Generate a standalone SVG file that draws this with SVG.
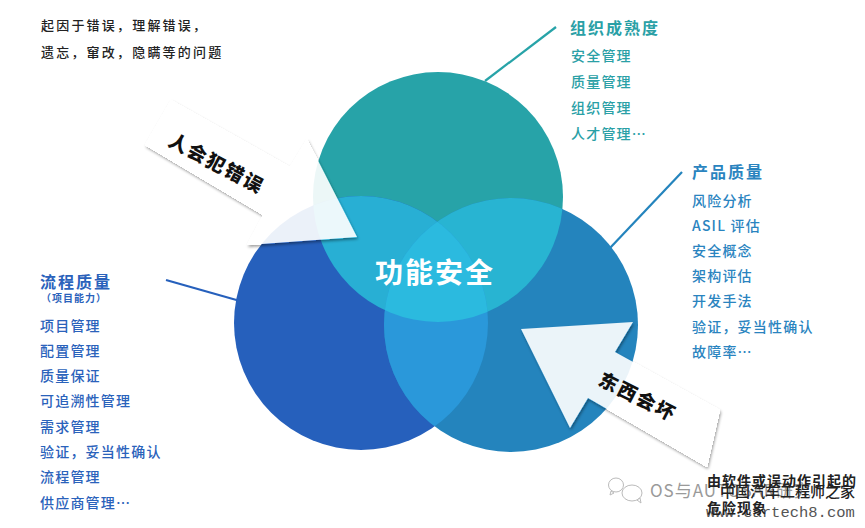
<svg xmlns="http://www.w3.org/2000/svg" width="865" height="528" viewBox="0 0 865 528">
<style>
text{font-family:"Noto Sans CJK SC","Noto Sans",sans-serif}
.t{font-size:16px;font-weight:700;letter-spacing:2px}
.i{font-size:14px;font-weight:500;letter-spacing:1.2px}
.teal{fill:#2aa0a6}.blue{fill:#2a84bf}.dark{fill:#2a62bb}
.k{font-size:13px;font-weight:500;letter-spacing:2.2px;fill:#222}
.a{font-size:19px;font-weight:900;letter-spacing:2px;fill:#111}
.c{fill:none;stroke-width:2.2}
.ar{fill:#fff;fill-opacity:.91;filter:url(#sh)}
</style>
<defs>
<filter id="sh" x="-20%" y="-20%" width="140%" height="140%">
<feGaussianBlur in="SourceAlpha" stdDeviation="1.5" result="b"/>
<feOffset in="b" dx="1" dy="2" result="o"/>
<feFlood flood-color="#000" flood-opacity=".45"/>
<feComposite in2="o" operator="in" result="s"/>
<feComponentTransfer in="SourceAlpha" result="solid"><feFuncA type="linear" slope="30"/></feComponentTransfer>
<feComposite in="s" in2="solid" operator="out" result="edge"/>
<feMerge><feMergeNode in="edge"/><feMergeNode in="SourceGraphic"/></feMerge>
</filter>
<clipPath id="cT"><circle cx="438" cy="197" r="125"/></clipPath>
<clipPath id="cL"><circle cx="361" cy="323" r="127"/></clipPath>
<clipPath id="cR"><circle cx="511" cy="325" r="127"/></clipPath>
</defs>
<g id="connectors">
<line class="c" stroke="#27a3a8" x1="485" y1="81" x2="556" y2="27"/>
<line class="c" stroke="#2484bd" x1="610" y1="248" x2="682" y2="172"/>
<line class="c" stroke="#2660bc" x1="166" y1="280" x2="240" y2="301"/>
</g>
<g id="circles">
<circle id="circle-top" cx="438" cy="197" r="125" fill="#27a3a8"/>
<circle id="circle-left" cx="361" cy="323" r="127" fill="#2660bc"/>
<circle id="circle-right" cx="511" cy="325" r="127" fill="#2484bd"/>
<g clip-path="url(#cT)"><circle cx="361" cy="323" r="127" fill="#28afd4"/><circle cx="511" cy="325" r="127" fill="#28b4d2"/></g>
<g clip-path="url(#cL)"><circle cx="511" cy="325" r="127" fill="#2a98da"/></g>
<g clip-path="url(#cT)"><g clip-path="url(#cL)"><circle cx="511" cy="325" r="127" fill="#2bbadf"/></g></g>
</g>
<g id="center-label"><text x="435" y="283" text-anchor="middle" font-size="28" font-weight="700" letter-spacing="2" fill="#fff">功能安全</text></g>
<g id="arrow-people">
<polygon class="ar" points="171,100 290,167 307,139 357,237 247,245 263,215 145,145"/>
<text class="a" transform="translate(167,145) rotate(28)">人会犯错误</text>
</g>
<g id="arrow-things">
<polygon class="ar" points="521,329 633,322 615,352 720,410 707,467 588,398 570,428"/>
<text class="a" transform="translate(597,384) rotate(27)">东西会坏</text>
</g>
<g id="note-top"><text class="k" x="41" y="30">起因于错误，理解错误，</text><text class="k" x="41" y="57">遗忘，窜改，隐瞒等的问题</text></g>
<g id="node-org">
<text class="t teal" x="570" y="34">组织成熟度</text>
<text class="i teal" x="571" y="61">安全管理</text>
<text class="i teal" x="571" y="87">质量管理</text>
<text class="i teal" x="571" y="113">组织管理</text>
<text class="i teal" x="571" y="139">人才管理…</text>
</g>
<g id="node-product">
<text class="t blue" x="692" y="178">产品质量</text>
<text class="i blue" x="692" y="206">风险分析</text>
<text class="i blue" x="692" y="231">ASIL 评估</text>
<text class="i blue" x="692" y="256">安全概念</text>
<text class="i blue" x="692" y="281">架构评估</text>
<text class="i blue" x="692" y="306">开发手法</text>
<text class="i blue" x="692" y="332">验证，妥当性确认</text>
<text class="i blue" x="692" y="357">故障率…</text>
</g>
<g id="node-process">
<text class="t dark" x="40" y="288">流程质量</text>
<text class="dark" x="41" y="302" font-size="10" font-weight="700" letter-spacing="1">（项目能力）</text>
<text class="i dark" x="40" y="331">项目管理</text>
<text class="i dark" x="40" y="356">配置管理</text>
<text class="i dark" x="40" y="381">质量保证</text>
<text class="i dark" x="40" y="406">可追溯性管理</text>
<text class="i dark" x="40" y="432">需求管理</text>
<text class="i dark" x="40" y="457">验证，妥当性确认</text>
<text class="i dark" x="40" y="482">流程管理</text>
<text class="i dark" x="40" y="508">供应商管理…</text>
</g>
<g id="watermark">
<g fill="#fff" stroke="#bbb" stroke-width="1">
<ellipse cx="616" cy="485" rx="7.5" ry="7"/>
<path d="M611 491l-1 4 4-2z"/>
<ellipse cx="632" cy="493" rx="10" ry="8"/>
<path d="M637 500l4 3-1-5z"/>
</g>
<text x="650" y="497" font-size="17" fill="#9a9a9a" letter-spacing="1">OS与AUTOSAR研究</text>
<text x="706" y="517" font-size="15.5" fill="#555" style="font-family:'Liberation Mono',monospace">www.cartech8.com</text>
</g>
<g id="note-bottom">
<text x="707" y="486" font-size="14" font-weight="700" letter-spacing="1" fill="#222">由软件或误动作引起的</text>
<text x="707" y="513" font-size="14" font-weight="700" letter-spacing="1" fill="#222">危险现象</text>
<text x="720" y="497" font-size="15" font-weight="500" fill="#222">中国汽车工程师之家</text>
</g>
</svg>
